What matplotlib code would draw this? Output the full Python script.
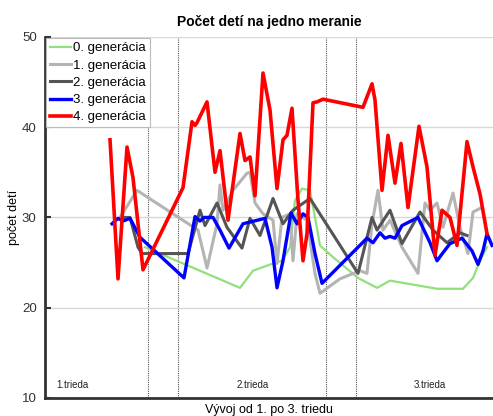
import matplotlib
matplotlib.use("Agg")
import matplotlib.pyplot as plt

plt.rcParams['font.family'] = ['Liberation Sans', 'DejaVu Sans']

# x = pozicia merania (px od laveho okraja osi)
x_gen0 = [100, 195, 208, 228, 237, 245, 250, 257, 265, 270, 275, 288, 313, 332, 345, 392, 418, 428, 435, 442]
y_gen0 = [26.7, 22.2, 24.1, 24.9, 25.2, 26.7, 31.9, 33.2, 33.0, 30.0, 26.9, 25.6, 23.3, 22.2, 23.0, 22.1, 22.1, 23.3, 25.2, 26.7]

x_gen1 = [75, 92, 153, 162, 172, 175, 178, 188, 202, 205, 210, 218, 228, 232, 237, 245, 248, 252, 262, 270, 275,
          295, 315, 322, 327, 333, 338, 345, 357, 373, 380, 385, 392, 398, 408, 415, 423, 428, 435]
y_gen1 = [30.0, 33.0, 28.6, 24.4, 29.3, 33.6, 30.8, 33.0, 34.9, 35.0, 31.6, 30.4, 29.7, 24.9, 30.0, 30.4, 25.2, 30.4, 29.7, 23.8, 21.6,
          23.2, 24.1, 23.8, 29.3, 33.0, 28.6, 29.7, 26.7, 23.8, 31.6, 30.8, 31.6, 28.9, 32.7, 28.9, 26.0, 30.6, 31.0]

x_gen2 = [78, 85, 93, 97, 143, 155, 160, 172, 182, 197, 205, 215, 228, 238, 248, 265, 313, 327, 332, 345, 357, 375, 388, 402, 415, 422]
y_gen2 = [30.0, 30.0, 26.7, 26.0, 26.0, 30.8, 29.1, 31.6, 28.9, 26.6, 29.9, 28.0, 32.1, 29.3, 30.8, 32.1, 23.8, 30.0, 28.6, 30.8, 27.1, 30.6, 28.6, 27.2, 28.3, 28.0]

x_gen3 = [67, 73, 78, 85, 95, 139, 150, 155, 159, 168, 175, 184, 198, 220, 227, 232, 238, 246, 252, 258, 263, 270, 277,
          322, 328, 335, 340, 345, 350, 357, 373, 385, 392, 398, 405, 417, 427, 433, 438, 442, 447]
y_gen3 = [29.3, 29.9, 29.6, 29.9, 27.8, 23.3, 30.1, 29.6, 30.0, 30.0, 28.6, 26.6, 29.3, 29.9, 26.7, 22.2, 25.2, 30.5, 29.3, 30.4, 30.0, 26.0, 22.7,
          27.7, 27.2, 28.3, 27.7, 27.9, 27.7, 29.1, 30.0, 27.2, 25.2, 26.1, 27.1, 27.7, 26.3, 24.8, 26.3, 28.2, 26.9]

x_gen4 = [65, 73, 82, 88, 98, 138, 147, 150, 152, 162, 170, 175, 183, 195, 200, 205, 210, 218, 225, 232, 238, 242, 247,
          253, 258, 262, 268, 272, 278, 318, 327, 330, 337, 343, 350, 356, 363, 374, 382, 390, 397, 405, 412, 422, 428, 435, 442]
y_gen4 = [38.6, 23.2, 37.8, 34.4, 24.2, 33.3, 40.6, 40.2, 40.5, 42.8, 35.0, 37.4, 29.7, 39.3, 36.3, 36.7, 32.4, 46.0, 41.9, 33.2, 38.6, 39.1, 42.1,
          31.9, 25.2, 28.2, 42.7, 42.8, 43.1, 42.2, 44.8, 43.0, 33.0, 39.1, 33.8, 38.2, 31.1, 40.1, 35.6, 25.8, 30.8, 30.0, 26.9, 38.4, 35.6, 32.6, 28.2]

hranice = [103, 133, 281, 311]
triedy = ["1.trieda", "2.trieda", "3.trieda"]
triedy_x = [27, 208, 385]
legenda = ["0. generácia", "1. generácia", "2. generácia", "3. generácia", "4. generácia"]

fig = plt.figure(figsize=(4.93, 4.16), dpi=100)
ax = fig.add_axes([0.0913, 0.0433, 0.9087, 0.868])

ax.plot(x_gen0, y_gen0, color="#90e07c", lw=1.6, label=legenda[0], solid_joinstyle="round")
ax.plot(x_gen1, y_gen1, color="#b4b4b4", lw=2.2, label=legenda[1], solid_joinstyle="round")
ax.plot(x_gen2, y_gen2, color="#555555", lw=2.2, label=legenda[2], solid_joinstyle="round")
ax.plot(x_gen3, y_gen3, color="#0000ff", lw=2.4, label=legenda[3], solid_joinstyle="round")
ax.plot(x_gen4, y_gen4, color="#ff0000", lw=2.6, label=legenda[4], solid_joinstyle="round")

for h in hranice:
    ax.axvline(h, color="#555555", lw=0.8, ls=(0, (1, 1)), zorder=0)

for t, tx in zip(triedy, triedy_x):
    ax.text(tx, 10.9, t, ha="center", va="bottom", fontsize=7, color="#222222")

ax.set_xlim(0, 448)
ax.set_ylim(10, 50)
ax.set_yticks([10, 20, 30, 40, 50])
ax.set_xticks([])
ax.yaxis.grid(True, color="#d8d8d8", lw=1)
ax.set_axisbelow(True)
ax.tick_params(axis="y", direction="in", length=4, width=1.5, labelsize=9.5, colors="#333333", pad=6)
for s in ["top", "right"]:
    ax.spines[s].set_visible(False)
for s in ["left", "bottom"]:
    ax.spines[s].set_linewidth(2)
    ax.spines[s].set_color("#333333")

ax.set_title("Počet detí na jedno meranie", fontsize=10, fontweight="bold", pad=8)
ax.set_ylabel("počet detí", fontsize=9, labelpad=1)
ax.set_xlabel("Vývoj od 1. po 3. triedu", fontsize=9, labelpad=4)

leg = ax.legend(loc="upper left", fontsize=9.5, fancybox=False, framealpha=1,
                edgecolor="#bbbbbb", borderaxespad=0.1, handlelength=1.6,
                handletextpad=0.15, labelspacing=0.38, borderpad=0.3)
leg.get_frame().set_linewidth(0.8)

fig.savefig("out.png", dpi=100)
